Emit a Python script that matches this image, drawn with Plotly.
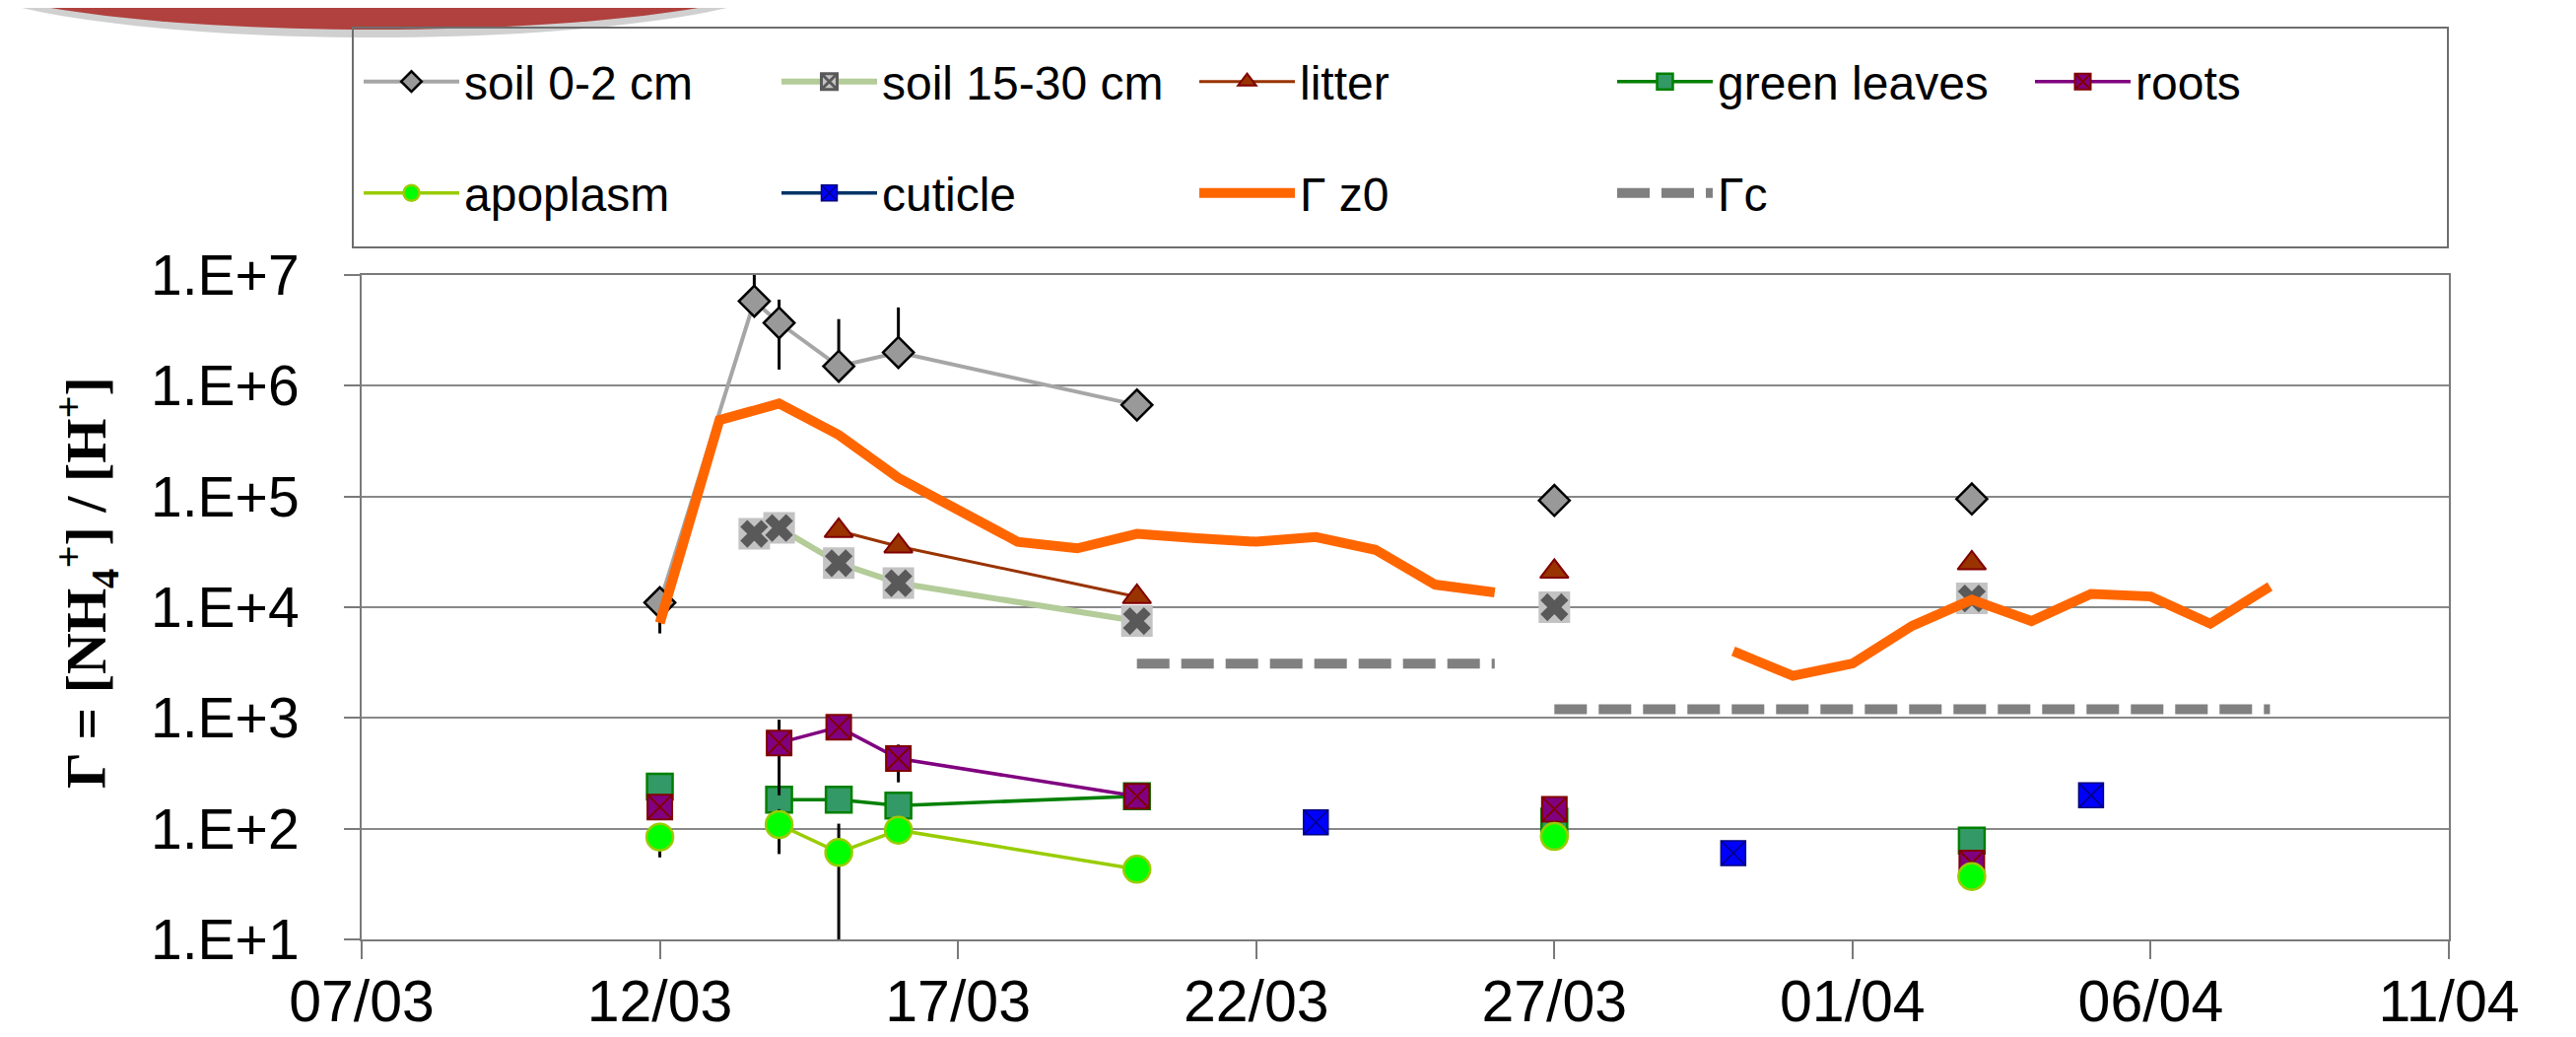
import plotly.graph_objects as go

# ---------------- data ----------------
soil02_dates = ['2008-03-12', '2008-03-13 14:00', '2008-03-14', '2008-03-15', '2008-03-16', '2008-03-20',
                None, '2008-03-27', None, '2008-04-03']
soil02_vals = [1.1e4, 5.8e6, 3.7e6, 1.5e6, 2.0e6, 6.7e5, None, 9.2e4, None, 9.5e4]
soil02_hi = [1.4e4, 1.2e7, 6.0e6, 4.0e6, 5.1e6, None, None, None, None, None]
soil02_lo = [5.8e3, 4.5e6, 1.4e6, 1.1e6, 1.6e6, None, None, None, None, None]

soil1530_dates = ['2008-03-13 14:00', '2008-03-14', '2008-03-15', '2008-03-16', '2008-03-20',
                  None, '2008-03-27', None, '2008-04-03']
soil1530_vals = [4.6e4, 5.2e4, 2.5e4, 1.65e4, 7.5e3, None, 1.0e4, None, 1.2e4]

litter_dates = ['2008-03-15', '2008-03-16', '2008-03-20', None, '2008-03-27', None, '2008-04-03']
litter_vals = [4.9e4, 3.55e4, 1.24e4, None, 2.1e4, None, 2.5e4]

plant_dates = ['2008-03-12', None, '2008-03-14', '2008-03-15', '2008-03-16', '2008-03-20',
               None, '2008-03-27', None, '2008-04-03']
green_vals = [240, None, 183, 183, 162, 196, None, 116, None, 78]
roots_vals = [157, None, 595, 826, 430, 196, None, 150, None, 49]
roots_hi = [None, None, 966, None, 575, None, None, None, None, None]
roots_lo = [None, None, 200, None, 262, None, None, None, None, None]
apo_vals = [84, None, 109, 61, 97, 43, None, 85, None, 37]
apo_hi = [100, None, 150, 111, None, None, None, None, None, None]
apo_lo = [55, None, 59, 9.9, None, None, None, None, None, None]

cuticle_dates = ['2008-03-23', None, '2008-03-30', None, '2008-04-05']
cuticle_vals = [114, None, 60, None, 200]

gz0_dates = ['2008-03-12', '2008-03-13', '2008-03-14', '2008-03-15', '2008-03-16', '2008-03-17',
             '2008-03-18', '2008-03-19', '2008-03-20', '2008-03-21', '2008-03-22', '2008-03-23',
             '2008-03-24', '2008-03-25', '2008-03-26', None,
             '2008-03-30', '2008-03-31', '2008-04-01', '2008-04-02', '2008-04-03', '2008-04-04',
             '2008-04-05', '2008-04-06', '2008-04-07', '2008-04-08']
gz0_vals = [7.2e3, 4.9e5, 6.9e5, 3.6e5, 1.47e5, 7.7e4, 3.9e4, 3.4e4, 4.6e4, 4.2e4, 3.9e4, 4.3e4,
            3.3e4, 1.6e4, 1.36e4, None,
            4.0e3, 2.4e3, 3.1e3, 6.8e3, 1.17e4, 7.5e3, 1.32e4, 1.25e4, 7.1e3, 1.54e4]

gc_dates = ['2008-03-20', '2008-03-26', None, '2008-03-27', '2008-04-08']
gc_vals = [3.1e3, 3.1e3, None, 1.2e3, 1.2e3]

y_tickvals = [1e1, 1e2, 1e3, 1e4, 1e5, 1e6, 1e7]
y_ticktext = ['1.E+1', '1.E+2', '1.E+3', '1.E+4', '1.E+5', '1.E+6', '1.E+7']


def err_plus(vals, hi):
    return [(h - v) if (h is not None and v is not None) else 0 for v, h in zip(vals, hi)]


def err_minus(vals, lo):
    return [(v - l) if (l is not None and v is not None) else 0 for v, l in zip(vals, lo)]


# ---------------- geometry ----------------
W, H = 2614, 1052
L, R, T, B = 359, 2477, 271, 945


def px_x(p):
    return (p - L) / (R - L)


def px_y(p):
    return (B - p) / (B - T)


SANS = 'Liberation Sans, Arial, sans-serif'
SERIF = 'Liberation Serif, Times New Roman, serif'
EW = 312

fig = go.Figure()

err_style = dict(type='data', symmetric=False, color='black', thickness=3, width=0)

# soil 0-2 cm
fig.add_trace(go.Scatter(
    x=soil02_dates, y=soil02_vals, name='soil 0-2 cm', mode='lines+markers', legend='legend',
    line=dict(color='#a6a6a6', width=4),
    marker=dict(symbol='diamond', size=24, color='#999999', line=dict(color='black', width=2.5)),
    error_y=dict(array=err_plus(soil02_vals, soil02_hi), arrayminus=err_minus(soil02_vals, soil02_lo),
                 **err_style),
))

# soil 15-30 cm (line, grey square, dark x; plus legend entry)
fig.add_trace(go.Scatter(
    x=soil1530_dates, y=soil1530_vals, mode='lines', showlegend=False,
    line=dict(color='#b3cc99', width=6),
))
fig.add_trace(go.Scatter(
    x=soil1530_dates, y=soil1530_vals, mode='markers', showlegend=False,
    marker=dict(symbol='square', size=32, color='#c3c3c3', line=dict(width=0)),
))
fig.add_trace(go.Scatter(
    x=soil1530_dates, y=soil1530_vals, mode='markers', showlegend=False,
    marker=dict(symbol='x', size=25, color='#595959', line=dict(width=0)),
))
fig.add_trace(go.Scatter(
    x=[None], y=[None], name='soil 15-30 cm', mode='lines+markers', legend='legend',
    line=dict(color='#b3cc99', width=6),
    marker=dict(symbol='square-x', size=25, color='#c3c3c3', line=dict(color='#595959', width=3)),
))

# litter
fig.add_trace(go.Scatter(
    x=litter_dates, y=litter_vals, name='litter', mode='lines+markers', legend='legend',
    line=dict(color='#993300', width=3),
    marker=dict(symbol='triangle-up', size=25, color='#993300', line=dict(color='#800000', width=2)),
))

# green leaves
fig.add_trace(go.Scatter(
    x=plant_dates, y=green_vals, name='green leaves', mode='lines+markers', legend='legend',
    line=dict(color='#008000', width=3.5),
    marker=dict(symbol='square', size=26, color='#339966', line=dict(color='#008000', width=2.5)),
))

# roots
fig.add_trace(go.Scatter(
    x=plant_dates, y=roots_vals, name='roots', mode='lines+markers', legend='legend',
    legendwidth=120,
    line=dict(color='#800080', width=3.5),
    marker=dict(symbol='square-x', size=25, color='#800080', line=dict(color='#800000', width=2)),
    error_y=dict(array=err_plus(roots_vals, roots_hi), arrayminus=err_minus(roots_vals, roots_lo),
                 **err_style),
))

# apoplasm
fig.add_trace(go.Scatter(
    x=plant_dates, y=apo_vals, name='apoplasm', mode='lines+markers', legend='legend2',
    line=dict(color='#99cc00', width=3.5),
    marker=dict(symbol='circle', size=27, color='#00ff00', line=dict(color='#99cc00', width=2.5)),
    error_y=dict(array=err_plus(apo_vals, apo_hi), arrayminus=err_minus(apo_vals, apo_lo), **err_style),
))

# cuticle
fig.add_trace(go.Scatter(
    x=cuticle_dates, y=cuticle_vals, name='cuticle', mode='lines+markers', legend='legend2',
    line=dict(color='#003366', width=3.5),
    marker=dict(symbol='square-x', size=25, color='#0000ff', line=dict(color='#000080', width=1.5)),
))

# Gamma z0
fig.add_trace(go.Scatter(
    x=gz0_dates, y=gz0_vals, name='\u0393 z0', mode='lines', legend='legend2',
    line=dict(color='#ff6600', width=10),
))

# Gamma c
fig.add_trace(go.Scatter(
    x=gc_dates, y=gc_vals, name='\u0393c', mode='lines', legend='legend2',
    line=dict(color='#808080', width=10, dash='33px,12px'),
))

legend_common = dict(
    orientation='h', xanchor='left', yanchor='middle', x=px_x(356),
    font=dict(family=SANS, size=48, color='black'), bgcolor='rgba(0,0,0,0)', borderwidth=0,
    itemwidth=97, entrywidth=EW, entrywidthmode='pixels', traceorder='normal',
)

fig.update_layout(
    width=W, height=H,
    margin=dict(l=L, r=W - R, t=T, b=H - B, autoexpand=False),
    paper_bgcolor='white', plot_bgcolor='white',
    showlegend=True,
    legend=dict(y=px_y(75), **legend_common),
    legend2=dict(y=px_y(188), **legend_common),
    xaxis=dict(
        type='date', range=['2008-03-07', '2008-04-11'], tick0='2008-03-07', dtick=5 * 86400000,
        tickformat='%d/%m', showgrid=False, zeroline=False,
        showline=True, linecolor='#7a7a7a', linewidth=2, mirror=True,
        ticks='outside', ticklen=18, tickwidth=2, tickcolor='#7a7a7a',
        tickfont=dict(family=SANS, size=59, color='black'), ticklabelstandoff=-8,
    ),
    yaxis=dict(
        type='log', range=[1, 7], tickvals=y_tickvals, ticktext=y_ticktext,
        showgrid=True, gridcolor='#888888', gridwidth=2, zeroline=False,
        showline=True, linecolor='#7a7a7a', linewidth=2, mirror=True,
        ticks='outside', ticklen=16, tickwidth=2, tickcolor='#7a7a7a',
        tickfont=dict(family=SANS, size=57, color='black'), ticklabelstandoff=34,
    ),
    annotations=[dict(
        text='<b>\u0393 = [NH<sub>4</sub><sup>+</sup>] / [H<sup>+</sup>]</b>',
        xref='paper', yref='paper', x=px_x(80), y=px_y(583), xanchor='center', yanchor='middle',
        textangle=-90, showarrow=False, font=dict(family=SERIF, size=58, color='black'),
    )],
    shapes=[
        # decorative red banner fragment at the top-left
        dict(type='circle', xref='paper', yref='paper',
             x0=px_x(372 - 436), x1=px_x(372 + 436), y0=px_y(-40 - 70), y1=px_y(-40 + 70),
             fillcolor='rgba(120,120,120,0.35)', line=dict(width=0), layer='above'),
        dict(type='circle', xref='paper', yref='paper',
             x0=px_x(372 - 430), x1=px_x(372 + 430), y0=px_y(-40 - 62), y1=px_y(-40 + 62),
             fillcolor='#b0413e', line=dict(width=0), layer='above'),
        # legend frame
        dict(type='rect', xref='paper', yref='paper',
             x0=px_x(350), x1=px_x(2476), y0=px_y(243), y1=px_y(20),
             line=dict(color='#6e6e6e', width=2), fillcolor='rgba(0,0,0,0)', layer='above'),
    ],
)

fig.write_html('out.html')
